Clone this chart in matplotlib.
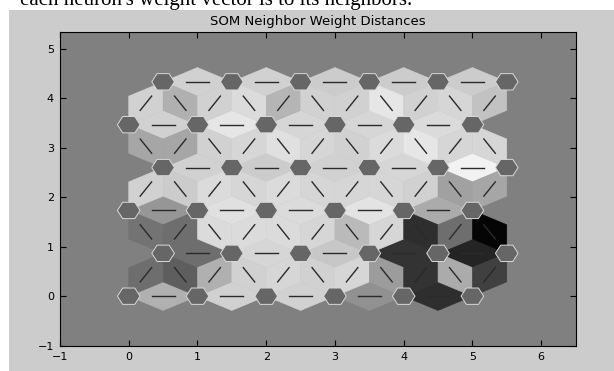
import numpy as np
import matplotlib.pyplot as plt
from matplotlib.patches import Polygon, Rectangle

# 6x6 hextop SOM, normalised distance between neighbouring weight vectors
# (0 = same weights -> white, 1 = farthest apart -> black)
horiz_dist = [
    [0.31, 0.18, 0.18, 0.43, 0.82],   # row 0
    [0.57, 0.16, 0.22, 0.80, 0.86],   # row 1
    [0.41, 0.12, 0.14, 0.11, 0.33],   # row 2
    [0.18, 0.20, 0.18, 0.16, 0.05],   # row 3
    [0.18, 0.10, 0.16, 0.16, 0.14],   # row 4
    [0.18, 0.18, 0.20, 0.20, 0.20],   # row 5
]
# links between row r and r+1, ordered left to right
diag_dist = [
    [0.57, 0.63, 0.31, 0.18, 0.16, 0.18, 0.16, 0.39, 0.80, 0.33, 0.75],  # 0-1
    [0.55, 0.57, 0.14, 0.14, 0.14, 0.16, 0.27, 0.16, 0.82, 0.57, 0.98],  # 1-2
    [0.18, 0.20, 0.14, 0.16, 0.14, 0.16, 0.16, 0.16, 0.18, 0.37, 0.35],  # 2-3
    [0.35, 0.35, 0.18, 0.16, 0.12, 0.16, 0.18, 0.14, 0.10, 0.16, 0.16],  # 3-4
    [0.18, 0.31, 0.18, 0.14, 0.29, 0.18, 0.18, 0.10, 0.18, 0.16, 0.24],  # 4-5
]
x_ticks = [-1, 0, 1, 2, 3, 4, 5, 6]
y_ticks = [-1, 0, 1, 2, 3, 4, 5]

rows, cols = 6, 6
h = np.sqrt(0.75)
z = np.sqrt(0.75) / 3


def pos(r, c):
    return np.array([c + 0.5 * (r % 2), r * h])


# neighbour pairs with their distances
pairs = []
for r in range(rows):
    for c in range(cols - 1):
        pairs.append((pos(r, c), pos(r, c + 1), horiz_dist[r][c]))
for r in range(rows - 1):
    links = []
    for c in range(cols):
        for c2 in range(cols):
            a, b = pos(r, c), pos(r + 1, c2)
            if abs(abs(b[0] - a[0]) - 0.5) < 1e-6:
                links.append((a, b))
    links.sort(key=lambda p: p[0][0] + p[1][0])
    for (a, b), d in zip(links, diag_dist[r]):
        pairs.append((a, b, d))

W, H = 614, 371
fig = plt.figure(figsize=(W / 100, H / 100), dpi=100, facecolor='white')
fig.add_artist(Rectangle((9 / W, 0), 1, 361 / H, transform=fig.transFigure,
                         facecolor=(0.8, 0.8, 0.8), edgecolor='none', zorder=0))
fig.text(20 / W, 1 - 5 / H, "each neuron's weight vector is to its neighbors.",
         family='Liberation Serif', fontsize=15, va='baseline', zorder=-1)

ax = fig.add_axes([60 / W, 25.3 / H, 515.5 / W, 313.4 / H])
ax.set_facecolor((0.5, 0.5, 0.5))

edgex = np.array([-1, 0, 1, 0]) * 0.5
edgey = np.array([0, 1, 0, -1]) * z
for a, b, d in pairs:
    diff = b - a
    ang = np.arctan2(diff[1], diff[0])
    ex = edgex * np.cos(ang) - edgey * np.sin(ang)
    ey = edgex * np.sin(ang) + edgey * np.cos(ang)
    mid = (a + b) / 2
    lev = 1 - d
    ax.add_patch(Polygon(np.column_stack([mid[0] + ex, mid[1] + ey]),
                         facecolor=(lev, lev, lev), edgecolor=(lev, lev, lev),
                         lw=0.4, zorder=1))
    p1 = (2 * a + b) / 3
    p2 = (a + 2 * b) / 3
    ax.plot([p1[0], p2[0]], [p1[1], p2[1]], color='#2a2a2a', lw=1.0, zorder=2)

hx = np.array([-0.165, -0.088, 0.088, 0.165, 0.088, -0.088])
hy = np.array([0, 0.165, 0.165, 0, -0.165, -0.165])
for r in range(rows):
    for c in range(cols):
        p = pos(r, c)
        ax.add_patch(Polygon(np.column_stack([p[0] + hx, p[1] + hy]),
                             facecolor=(0.4, 0.4, 0.4), edgecolor=(0.85, 0.85, 0.85),
                             lw=0.7, zorder=3))

ax.set_xlim(-1, 6.5)
ax.set_ylim(-1, 5 * h + 1)
ax.set_xticks(x_ticks)
ax.set_yticks(y_ticks)
ax.tick_params(direction='in', top=True, right=True, length=4, width=0.8,
               labelsize=8, pad=4.5)
for s in ax.spines.values():
    s.set_linewidth(0.8)
ax.set_title('SOM Neighbor Weight Distances', fontsize=9.5, pad=5.5)

fig.savefig('out.png', dpi=100, facecolor=fig.get_facecolor())
